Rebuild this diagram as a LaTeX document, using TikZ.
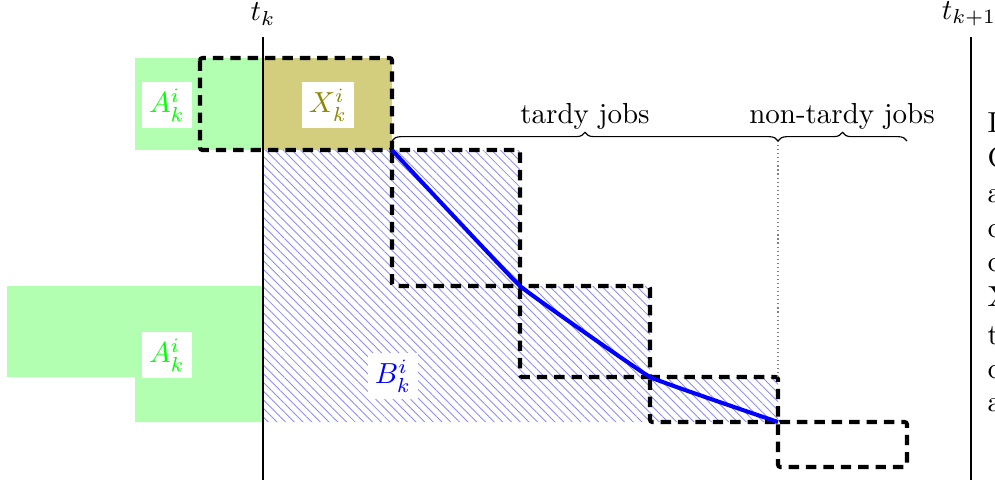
\documentclass[tikz,border=0pt]{standalone}
\usetikzlibrary{patterns.meta,decorations.pathreplacing}
\begin{document}
\begin{tikzpicture}[x=0.345pt,y=-0.345pt,
  dbox/.style={draw=black,line width=1.4pt,dash pattern=on 3.6pt off 2.4pt,rounded corners=0.8pt},
  lbl/.style={fill=white,inner sep=2.5pt},
  hatch/.style={pattern={Lines[angle=-45,distance=2.12pt,line width=0.3pt]},pattern color=blue!45},
  brc/.style={decorate,decoration={brace,amplitude=3pt},line width=0.4pt},
  tline/.style={line width=0.8pt}]
\useasboundingbox (0,0) rectangle (995,484);
% staircase points
\coordinate (p1) at (392,150);
\coordinate (p2) at (520,286);
\coordinate (p3) at (650,377);
\coordinate (p4) at (778,422);
% fills
\fill[green!30] (135,58) rectangle (263,150);
\fill[green!30] (7,286) -- (263,286) -- (263,422) -- (135,422) -- (135,377) -- (7,377) -- cycle;
\fill[olive!40] (263,58) rectangle (p1);
\fill[hatch] (263,150) -- (520,150) -- (p2) -- (650,286) -- (p3) -- (778,377) -- (p4) -- (263,422) -- cycle;
% labels
\node[lbl,text=green] (A1) at (167,105) {$A_k^i$};
\node[lbl,text=olive] (X1) at (328,105) {$X_k^i$};
\node[lbl,text=green] (A2) at (167,355) {$A_k^i$};
\node[lbl,text=blue] (B1) at (393,376) {$B_k^i$};
% dashed boxes
\draw[dbox] (200,58) rectangle (p1);
\draw[dbox] (p1) rectangle (p2);
\draw[dbox] (p2) rectangle (p3);
\draw[dbox] (p3) rectangle (p4);
\draw[dbox] (p4) rectangle (907,467);
% blue curve
\draw[blue,line width=1.4pt,line join=round] plot[smooth,tension=0.12] coordinates {(p1) (p2) (p3) (p4)};
% dotted separator
\coordinate (d1) at (778,141);
\draw[gray,densely dotted,line width=0.4pt] (d1) -- (778,377);
% braces
\coordinate (b0) at (392,141);
\coordinate (b2) at (907,141);
\draw[brc] (b0) -- (d1);
\draw[brc] (d1) -- (b2);
\node (tj) at (585,116) {tardy jobs};
\node (ntj) at (842,116) {non-tardy jobs};
% time lines
\draw[tline] (263,37) -- (263,480);
\draw[tline] (971,37) -- (971,480);
\node (tk) at (263,14) {$t_k$};
\node (tk1) at (969,14) {$t_{k+1}$};
% clipped text on the right
\foreach \w/\yy [count=\i from 0] in {In/132,Co/167,an/202,co/237,co/271,X/306,th/344,co/378,an/411}
  \node[anchor=base west,inner sep=0] (r\i) at (987,\yy) {\w};
\end{tikzpicture}
\end{document}
